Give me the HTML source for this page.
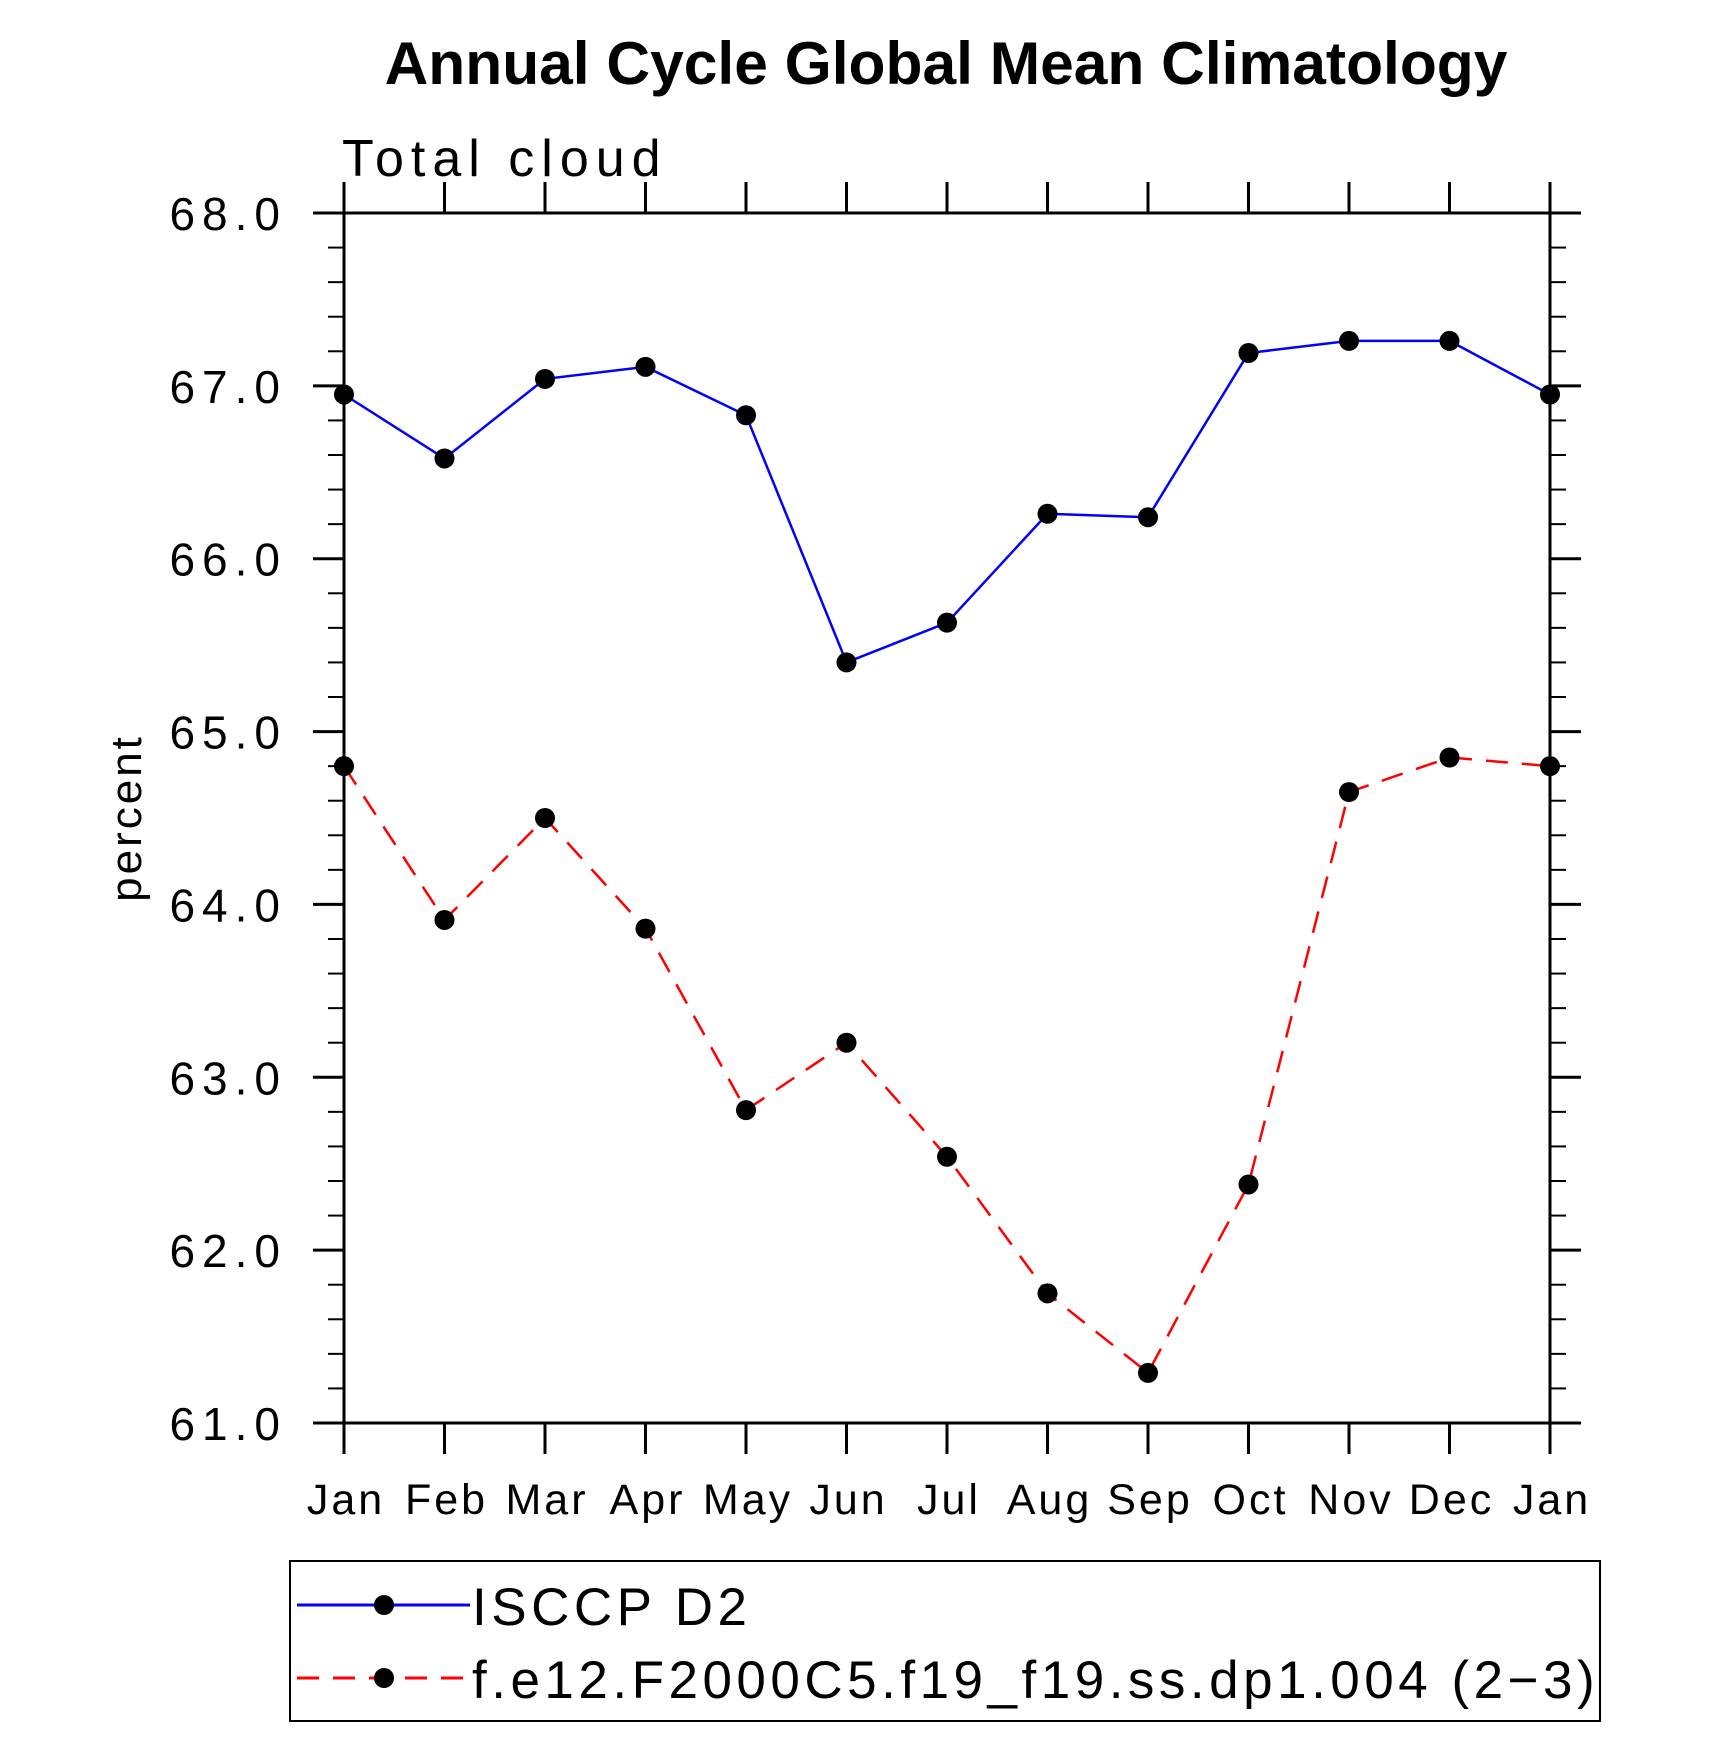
<!DOCTYPE html>
<html><head><meta charset="utf-8"><style>
html,body{margin:0;padding:0;background:#fff;}
svg{display:block;font-family:"Liberation Sans",sans-serif;}
</style></head><body>
<svg id="chart" width="1710" height="1763" viewBox="0 0 1710 1763" xmlns="http://www.w3.org/2000/svg">
<text x="946" y="84" text-anchor="middle" font-size="60.5" font-weight="bold">Annual Cycle Global Mean Climatology</text>
<text x="342" y="176" font-size="52" fill="#000" style="letter-spacing:7px">Total  cloud</text>
<text transform="translate(141,818) rotate(-90)" text-anchor="middle" font-size="44" style="letter-spacing:3px">percent</text>
<g id="grid"></g>
<g id="series"></g>
<g id="legend"></g>
</svg>
<script>
const months = ["Jan","Feb","Mar","Apr","May","Jun","Jul","Aug","Sep","Oct","Nov","Dec","Jan"];
const isccp = [66.95,66.58,67.04,67.11,66.83,65.40,65.63,66.26,66.24,67.19,67.26,67.26,66.95];
const model = [64.80,63.91,64.50,63.86,62.81,63.20,62.54,61.75,61.29,62.38,64.65,64.85,64.80];
const yTicks = [61,62,63,64,65,66,67,68];
const yTickLabels = ["61.0","62.0","63.0","64.0","65.0","66.0","67.0","68.0"];
const legendLabels = ["ISCCP D2","f.e12.F2000C5.f19_f19.ss.dp1.004 (2\u22123)"];

const NS="http://www.w3.org/2000/svg";
const L=344,R=1550,T=213,B=1423,yMin=61,yMax=68;
function xs(i){return L+(R-L)*i/(months.length-1);}
function ys(v){return B-(B-T)*(v-yMin)/(yMax-yMin);}
function mk(tag,attrs,parent){const e=document.createElementNS(NS,tag);for(const k in attrs)e.setAttribute(k,attrs[k]);parent.appendChild(e);return e;}
const grid=document.getElementById('grid');
const border=mk('rect',{x:L,y:T,width:R-L,height:B-T,fill:'none',stroke:'#000','stroke-width':3},grid);


months.forEach((m,i)=>{
  const x=xs(i);
  const t1=mk('line',{x1:x,x2:x,y1:B,y2:B+31,stroke:'#000','stroke-width':3},grid);
  
  
  const t2=mk('line',{x1:x,x2:x,y1:T,y2:T-31,stroke:'#000','stroke-width':3},grid);
  
  
  const lb=mk('text',{x:x+2,y:1514,'text-anchor':'middle','font-size':43,style:'letter-spacing:3px'},grid);
  lb.textContent=m;
  
  
});
for(let k=0;k<=35;k++){
  const v=yMin+k*0.2;const y=ys(v);const major=k%5===0;const len=major?31:16;
  const a=mk('line',{x1:L,x2:L-len,y1:y,y2:y,stroke:'#000','stroke-width':major?3:2},grid);
  
  
  const b=mk('line',{x1:R,x2:R+len,y1:y,y2:y,stroke:'#000','stroke-width':major?3:2},grid);
  
  
}
yTicks.forEach((v,i)=>{
  const lb=mk('text',{x:287,y:ys(v)+17,'text-anchor':'end','font-size':46,style:'letter-spacing:7px'},grid);
  lb.textContent=yTickLabels[i];
  
  
});
const series=document.getElementById('series');
function drawSeries(vals,color,dash,name){
  const pts=vals.map((v,i)=>xs(i)+','+ys(v)).join(' ');
  const pl=mk('polyline',{points:pts,fill:'none',stroke:color,'stroke-width':2.5},series);
  if(dash)pl.setAttribute('stroke-dasharray',dash);
  
  
  vals.forEach((v,i)=>{
    const c=mk('circle',{cx:xs(i),cy:ys(v),r:10,fill:'#000'},series);
    
    
  });
}
drawSeries(isccp,'#0000ff',null,'isccp');
drawSeries(model,'#ff0000','22,14','model');
const lg=document.getElementById('legend');
const box=mk('rect',{x:290,y:1561,width:1310,height:160,fill:'none',stroke:'#000','stroke-width':2},lg);


[['#0000ff',null,1605],['#ff0000','22,14',1678]].forEach((s,i)=>{
  const ln=mk('line',{x1:297,x2:470,y1:s[2],y2:s[2],stroke:s[0],'stroke-width':3},lg);
  if(s[1])ln.setAttribute('stroke-dasharray',s[1]);
  
  
  const c=mk('circle',{cx:384,cy:s[2],r:10,fill:'#000'},lg);
  
  
  const t=mk('text',{x:472,y:s[2]+20,'font-size':53,style:'letter-spacing:4.5px'},lg);
  t.textContent=legendLabels[i];
  
  
});
</script>
</body></html>
